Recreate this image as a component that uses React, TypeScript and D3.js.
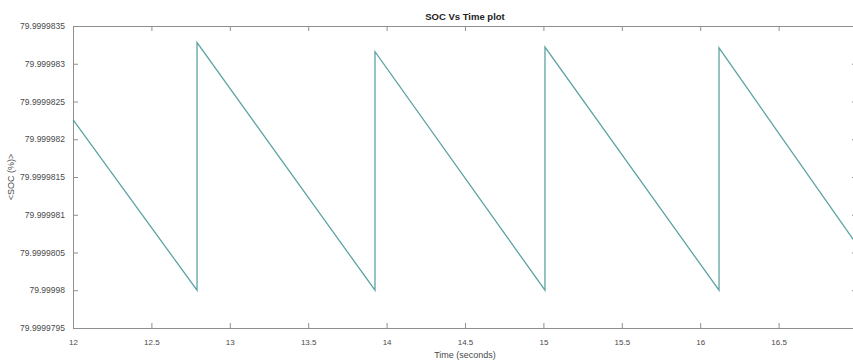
import { useRef, useEffect } from "react";
import * as d3 from "d3";

// sawtooth SOC trace (vertical jumps = repeated time)
const timeSec = [12, 12.791, 12.791, 13.926, 13.926, 15.01, 15.01, 16.12, 16.12, 17];
const socPct = [
  79.99998226, 79.99998, 79.99998328, 79.99998, 79.99998316, 79.99998, 79.99998322, 79.99998,
  79.99998321, 79.9999806,
];

const xTicks = [12, 12.5, 13, 13.5, 14, 14.5, 15, 15.5, 16, 16.5, 17];
const xTickLabels = ["12", "12.5", "13", "13.5", "14", "14.5", "15", "15.5", "16", "16.5", "17"];
const yTicks = [
  79.9999795, 79.99998, 79.9999805, 79.999981, 79.9999815, 79.999982, 79.9999825, 79.999983,
  79.9999835,
];
const yTickLabels = [
  "79.9999795", "79.99998", "79.9999805", "79.999981", "79.9999815", "79.999982", "79.9999825",
  "79.999983", "79.9999835",
];

export default function App() {
  const svgRef = useRef<SVGSVGElement>(null);

  useEffect(() => {
    if (!svgRef.current) return;
    const width = 853;
    const height = 361;
    const margin = { top: 26, right: -4, bottom: 33, left: 73 };
    const font = "'Liberation Sans', Arial, sans-serif";
    const axisColor = "#8f8f8f";
    const textColor = "#4a4a4a";

    const svg = d3.select(svgRef.current);
    svg.selectAll("*").remove();
    svg.attr("width", width).attr("height", height);

    svg.append("rect").attr("width", width).attr("height", height).attr("fill", "#fff");

    const x = d3
      .scaleLinear()
      .domain([12, 17])
      .range([margin.left, width - margin.right]);
    const y = d3
      .scaleLinear()
      .domain([79.9999795, 79.9999835])
      .range([height - margin.bottom, margin.top]);

    const tickLen = 5;

    // bottom axis, inward ticks
    const bottom = svg
      .append("g")
      .attr("transform", `translate(0,${y.range()[0]})`)
      .call(
        d3
          .axisBottom(x)
          .tickValues(xTicks)
          .tickSizeInner(-tickLen)
          .tickSizeOuter(0)
          .tickPadding(tickLen + 6)
          .tickFormat((_, i) => xTickLabels[i])
      );
    // top axis, no labels
    const top = svg
      .append("g")
      .attr("transform", `translate(0,${y.range()[1]})`)
      .call(d3.axisTop(x).tickValues(xTicks).tickSizeInner(-tickLen).tickSizeOuter(0).tickFormat(() => ""));
    // left axis
    const left = svg
      .append("g")
      .attr("transform", `translate(${x.range()[0]},0)`)
      .call(
        d3
          .axisLeft(y)
          .tickValues(yTicks)
          .tickSizeInner(-tickLen)
          .tickSizeOuter(0)
          .tickPadding(tickLen + 3)
          .tickFormat((_, i) => yTickLabels[i])
      );
    // right axis
    const right = svg
      .append("g")
      .attr("transform", `translate(${x.range()[1]},0)`)
      .call(d3.axisRight(y).tickValues(yTicks).tickSizeInner(-tickLen).tickSizeOuter(0).tickFormat(() => ""));

    [bottom, top, left, right].forEach((g) => {
      g.select(".domain").attr("stroke", axisColor);
      g.selectAll(".tick line").attr("stroke", axisColor);
      g.selectAll(".tick text")
        .attr("fill", textColor)
        .style("font-family", font);
    });
    bottom.selectAll(".tick text").style("font-size", "8px");
    left.selectAll(".tick text").style("font-size", "8.5px");

    // SOC line
    const pts = timeSec.map((t, i) => [t, socPct[i]] as [number, number]);
    svg
      .append("path")
      .datum(pts)
      .attr("fill", "none")
      .attr("stroke", "#5ea3a3")
      .attr("stroke-width", 1.3)
      .attr("d", d3.line<[number, number]>().x((d) => x(d[0])).y((d) => y(d[1])));

    const cx = (x.range()[0] + x.range()[1]) / 2;

    svg
      .append("text")
      .attr("x", cx)
      .attr("y", 20)
      .attr("text-anchor", "middle")
      .style("font-family", font)
      .style("font-size", "9.5px")
      .style("font-weight", "bold")
      .attr("fill", "#222")
      .text("SOC Vs Time plot");

    svg
      .append("text")
      .attr("x", cx)
      .attr("y", 358)
      .attr("text-anchor", "middle")
      .style("font-family", font)
      .style("font-size", "9px")
      .attr("fill", textColor)
      .text("Time (seconds)");

    svg
      .append("text")
      .attr("transform", `translate(14,${(y.range()[0] + y.range()[1]) / 2}) rotate(-90)`)
      .attr("text-anchor", "middle")
      .style("font-family", font)
      .style("font-size", "9px")
      .attr("fill", textColor)
      .text("<SOC (%)>");
  }, []);

  return <svg ref={svgRef} style={{ position: "absolute", left: 0, top: 0, display: "block" }} />;
}
